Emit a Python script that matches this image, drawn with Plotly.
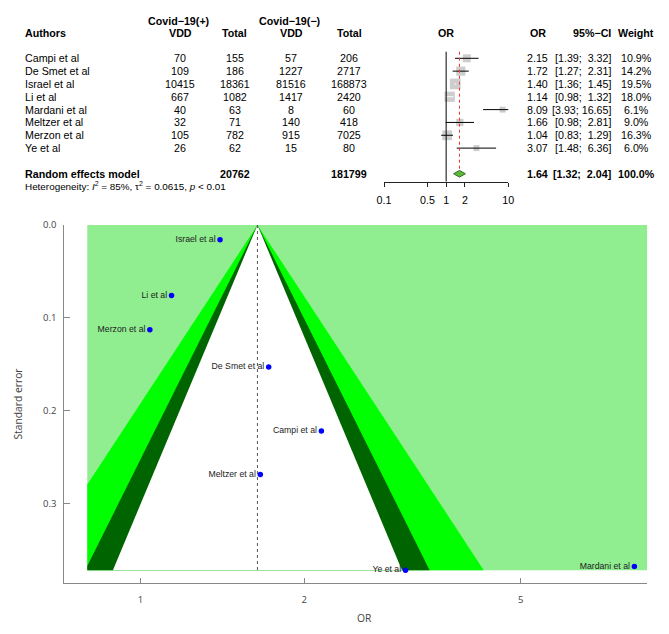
import math
from statistics import NormalDist
import plotly.graph_objects as go

W, H = 669, 634

# ---------------- data ----------------
studies = ["Campi et al", "De Smet et al", "Israel et al", "Li et al",
           "Mardani et al", "Meltzer et al", "Merzon et al", "Ye et al"]
pos_vdd = [70, 109, 10415, 667, 40, 32, 105, 26]
pos_total = [155, 186, 18361, 1082, 63, 71, 782, 62]
neg_vdd = [57, 1227, 81516, 1417, 8, 140, 915, 15]
neg_total = [206, 2717, 168873, 2420, 60, 418, 7025, 80]
or_vals = [2.15, 1.72, 1.40, 1.14, 8.09, 1.66, 1.04, 3.07]
ci_low = [1.39, 1.27, 1.36, 0.98, 3.93, 0.98, 0.83, 1.48]
ci_high = [3.32, 2.31, 1.45, 1.32, 16.65, 2.81, 1.29, 6.36]
weights = [10.9, 14.2, 19.5, 18.0, 6.1, 9.0, 16.3, 6.0]
se_vals = [0.222, 0.153, 0.016, 0.076, 0.368, 0.269, 0.113, 0.372]

pooled_or = 1.64
pooled_low = 1.32
pooled_high = 2.04
pooled_pos_total = 20762
pooled_neg_total = 181799
i2_pct = 85
tau2 = 0.0615

forest_ticks = [0.1, 0.5, 1, 2, 10]
funnel_xticks = [1, 2, 5]
funnel_yticks = [0.0, 0.1, 0.2, 0.3]
contour_levels = [0.99, 0.95, 0.90]
contour_colors = ["#00FF00", "#006400", "#FFFFFF"]

# ---------------- helpers ----------------
def px_x(x):
    return x / W

def px_y(y):
    return 1 - y / H

ROW0 = 45.47
ROW_STEP = 12.83

def row_px(r):
    return ROW0 + ROW_STEP * r

TABLE_FONT = "Liberation Sans, Arial, sans-serif"
FS = 10.7

fig = go.Figure()

# ---------------- funnel plot ----------------
SHADE_OR_MIN = 0.798
AXIS_OR_MIN = 0.724
AXIS_OR_MAX = 8.545
SE_AXIS_MAX = 0.3862

se_max = max(se_vals)
c = math.log(pooled_or)
ln_lo = math.log(SHADE_OR_MIN)
ln_hi = math.log(AXIS_OR_MAX)


def funnel_poly(z):
    pts = [(c, 0.0)]
    rb = c + z * se_max
    if rb <= ln_hi:
        pts.append((rb, se_max))
    else:
        s = (ln_hi - c) / z
        pts += [(ln_hi, s), (ln_hi, se_max)]
    lb = c - z * se_max
    if lb >= ln_lo:
        pts.append((lb, se_max))
    else:
        s = (c - ln_lo) / z
        pts += [(ln_lo, se_max), (ln_lo, s)]
    pts.append((c, 0.0))
    return [math.exp(p[0]) for p in pts], [p[1] for p in pts]


# background (outside all contours)
fig.add_trace(go.Scatter(
    x=[SHADE_OR_MIN, AXIS_OR_MAX, AXIS_OR_MAX, SHADE_OR_MIN, SHADE_OR_MIN],
    y=[0, 0, se_max, se_max, 0],
    fill="toself", fillcolor="#90EE90", mode="lines", line=dict(width=0),
    hoverinfo="skip", xaxis="x", yaxis="y"))

for lvl, col in zip(contour_levels, contour_colors):
    z = NormalDist().inv_cdf(1 - (1 - lvl) / 2)
    xs, ys = funnel_poly(z)
    fig.add_trace(go.Scatter(
        x=xs, y=ys, fill="toself", fillcolor=col, mode="lines",
        line=dict(width=0), hoverinfo="skip", xaxis="x", yaxis="y"))

fig.add_trace(go.Scatter(
    x=[pooled_or, pooled_or], y=[0, se_max], mode="lines",
    line=dict(color="#555555", width=1, dash="dot"),
    hoverinfo="skip", xaxis="x", yaxis="y"))

fig.add_trace(go.Scatter(
    x=or_vals, y=se_vals, mode="markers+text", text=studies,
    textposition="middle left",
    textfont=dict(family=TABLE_FONT, size=8.7, color="#222222"),
    marker=dict(color="#0000FF", size=5.5),
    xaxis="x", yaxis="y"))

# ---------------- forest plot ----------------
PX_PER_DEC = (508.3 - 384.0) / 2.0
rows = list(range(1, len(studies) + 1))
max_w = max(weights)
sizes = [10.7 * math.sqrt(w / max_w) for w in weights]

fig.add_trace(go.Scatter(
    x=or_vals, y=rows, mode="markers",
    marker=dict(symbol="square", size=sizes, color="#B8B8B8", line=dict(width=0)),
    xaxis="x2", yaxis="y2", hoverinfo="skip", cliponaxis=False))

for r, o, lo, hi, s in zip(rows, or_vals, ci_low, ci_high, sizes):
    inside = (math.log10(hi / o) * PX_PER_DEC < s / 2) and (math.log10(o / lo) * PX_PER_DEC < s / 2)
    fig.add_trace(go.Scatter(
        x=[lo, hi], y=[r, r], mode="lines",
        line=dict(color="#FFFFFF" if inside else "#000000", width=1),
        xaxis="x2", yaxis="y2", hoverinfo="skip", cliponaxis=False))

POOL_ROW = 10
DH = 0.26
Y_TOP_LINE = 0.486
Y_AXIS_ROW = (181.7 - ROW0) / ROW_STEP

fig.add_trace(go.Scatter(
    x=[1, 1], y=[Y_TOP_LINE, Y_AXIS_ROW], mode="lines",
    line=dict(color="#000000", width=1), xaxis="x2", yaxis="y2", hoverinfo="skip"))
fig.add_trace(go.Scatter(
    x=[pooled_or, pooled_or], y=[Y_TOP_LINE, POOL_ROW - DH], mode="lines",
    line=dict(color="#FF3030", width=1, dash="dot"), xaxis="x2", yaxis="y2", hoverinfo="skip"))
fig.add_trace(go.Scatter(
    x=[pooled_low, pooled_or, pooled_high, pooled_or, pooled_low],
    y=[POOL_ROW, POOL_ROW - DH, POOL_ROW, POOL_ROW + DH, POOL_ROW],
    fill="toself", fillcolor="#5DB83A", mode="lines",
    line=dict(color="#2F6E1C", width=1), xaxis="x2", yaxis="y2", hoverinfo="skip"))

# ---------------- table text ----------------
ann = []


def txt(s, x, y, anchor="left", size=FS, color="#000000"):
    ann.append(dict(text=s, x=px_x(x), y=px_y(y), xref="paper", yref="paper",
                    xanchor=anchor, yanchor="middle", showarrow=False, borderpad=0,
                    font=dict(family=TABLE_FONT, size=size, color=color)))


COL_VDD1, COL_TOT1, COL_VDD2, COL_TOT2 = 180, 235, 291, 349.5
COL_OR, COL_CI_R, COL_W = 537.5, 611.5, 636
X_AUTH = 24

H1, H2 = 21, 32.7
txt("<b>Covid−19(+)</b>", 179, H1, "center")
txt("<b>Covid−19(−)</b>", 289.5, H1, "center")
txt("<b>Authors</b>", X_AUTH, H2)
txt("<b>VDD</b>", COL_VDD1, H2, "center")
txt("<b>Total</b>", COL_TOT1, H2, "center")
txt("<b>VDD</b>", COL_VDD2, H2, "center")
txt("<b>Total</b>", COL_TOT2, H2, "center")
txt("<b>OR</b>", 446.15, H2, "center")
txt("<b>OR</b>", COL_OR, H2, "center")
txt("<b>95%−CI</b>", COL_CI_R, H2, "right")
txt("<b>Weight</b>", COL_W, H2, "center")


def ci_str(lo, hi):
    hs = f"{hi:.2f}"
    pad = " \u00a0" if len(hs) < 5 else " "
    return f"[{lo:.2f};{pad}{hs}]"


for r, name, a, b, cc, d, o, lo, hi, w in zip(rows, studies, pos_vdd, pos_total, neg_vdd,
                                              neg_total, or_vals, ci_low, ci_high, weights):
    y = row_px(r)
    txt(name, X_AUTH, y)
    txt(str(a), COL_VDD1, y, "center")
    txt(str(b), COL_TOT1, y, "center")
    txt(str(cc), COL_VDD2, y, "center")
    txt(str(d), COL_TOT2, y, "center")
    txt(f"{o:.2f}", COL_OR, y, "center")
    txt(ci_str(lo, hi), COL_CI_R, y, "right")
    txt(f"{w:.1f}%", COL_W, y, "center")

yp = row_px(POOL_ROW)
txt("<b>Random effects model</b>", X_AUTH, yp)
txt(f"<b>{pooled_pos_total}</b>", COL_TOT1, yp, "center")
txt(f"<b>{pooled_neg_total}</b>", COL_TOT2, yp, "center")
txt(f"<b>{pooled_or:.2f}</b>", COL_OR, yp, "center")
txt(f"<b>{ci_str(pooled_low, pooled_high)}</b>", COL_CI_R, yp, "right")
txt(f"<b>{sum(weights):.1f}%</b>", COL_W, yp, "center")
txt(f"Heterogeneity: <i>I</i><sup>2</sup> = {i2_pct}%, τ<sup>2</sup> = {tau2}, <i>p</i> &lt; 0.01",
    X_AUTH, 186.3, size=9.9)

# funnel axis titles
AX_FONT = "Open Sans, sans-serif"
ann.append(dict(text="Standard error", x=px_x(18.3), y=px_y(403.3), xref="paper", yref="paper",
                textangle=-90, showarrow=False, xanchor="center", yanchor="middle",
                font=dict(family=AX_FONT, size=10.3, color="#444444")))
ann.append(dict(text="OR", x=px_x(365), y=px_y(618.3), xref="paper", yref="paper",
                showarrow=False, xanchor="center", yanchor="middle",
                font=dict(family=AX_FONT, size=10.3, color="#444444")))

fig.update_layout(
    width=W, height=H, autosize=False,
    margin=dict(l=0, r=0, t=0, b=0, pad=0),
    paper_bgcolor="white", plot_bgcolor="white",
    showlegend=False, hovermode=False,
    annotations=ann,
    xaxis=dict(domain=[px_x(64.3), px_x(647.3)], anchor="y", type="log",
               range=[math.log10(AXIS_OR_MIN), math.log10(AXIS_OR_MAX)],
               tickvals=funnel_xticks, ticktext=[str(v) for v in funnel_xticks],
               ticks="inside", ticklen=5, tickcolor="#888888", tickwidth=1,
               showline=True, linecolor="#888888", linewidth=1,
               showgrid=False, zeroline=False, ticklabelstandoff=7, automargin=False,
               tickfont=dict(family=AX_FONT, size=9.5, color="#444444")),
    yaxis=dict(domain=[px_y(583.3), px_y(225)], anchor="x",
               range=[SE_AXIS_MAX, 0],
               tickvals=funnel_yticks, ticktext=[f"{v:.1f}" for v in funnel_yticks],
               ticks="inside", ticklen=5.7, tickcolor="#888888", tickwidth=1,
               showline=True, linecolor="#888888", linewidth=1,
               showgrid=False, zeroline=False, ticklabelstandoff=5, automargin=False,
               tickfont=dict(family=AX_FONT, size=9.5, color="#444444")),
    xaxis2=dict(domain=[px_x(384.0), px_x(508.3)], anchor="y2", type="log",
                range=[-1, 1], tickvals=forest_ticks,
                ticktext=[f"{v:g}" for v in forest_ticks],
                ticks="outside", ticklen=4.5, tickcolor="#222222", tickwidth=1,
                showline=True, linecolor="#222222", linewidth=1,
                showgrid=False, zeroline=False, ticklabelstandoff=4, automargin=False,
                tickfont=dict(family=TABLE_FONT, size=FS, color="#000000")),
    yaxis2=dict(domain=[px_y(181.7), px_y(ROW0)], anchor="x2", automargin=False,
                range=[Y_AXIS_ROW, 0], visible=False, showgrid=False, zeroline=False),
)

fig.write_html(
    "out.html",
    config={"displayModeBar": False},
    post_script="document.body.style.margin='0';document.body.style.overflow='hidden';",
)
